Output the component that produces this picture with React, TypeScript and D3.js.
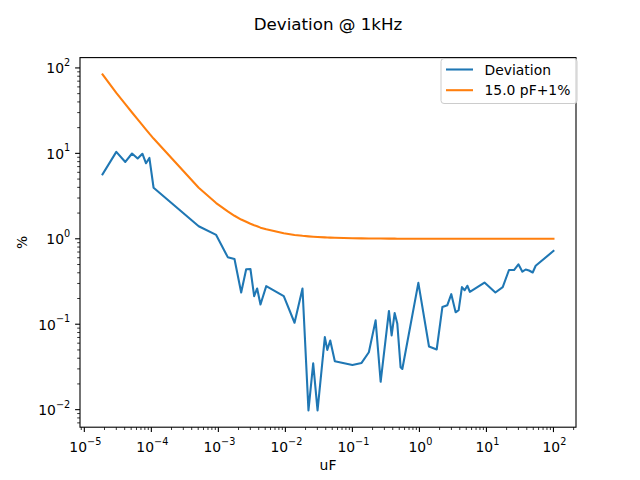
import React from "react";
import * as d3 from "d3";

// capacitance in uF
const capacitance = [
  1.87e-5, 3.0e-5, 4.09e-5, 5.15e-5, 6.25e-5, 7.35e-5, 8.33e-5, 9.35e-5, 1.08e-4,
  5.09e-4, 9.27e-4, 1.38e-3, 1.74e-3, 2.19e-3, 2.6e-3, 3.01e-3, 3.42e-3, 3.79e-3,
  4.25e-3, 5.18e-3, 9.46e-3, 1.37e-2, 1.8e-2, 2.21e-2, 2.6e-2, 3.02e-2, 3.88e-2,
  4.22e-2, 4.67e-2, 5.47e-2, 0.1, 0.137, 0.176, 0.222, 0.264, 0.351, 0.385, 0.427,
  0.468, 0.524, 0.556, 0.964, 1.39, 1.81, 2.2, 2.61, 2.99, 3.47, 3.85, 4.31, 4.73,
  5.19, 5.66, 9.35, 13.6, 17.5, 21.7, 25.8, 30.0, 34.4, 38.5, 43.2, 49.0, 54.3, 100,
];

// measured deviation, %
const deviation = [
  5.68, 10.4, 7.93, 9.96, 8.7, 9.9, 7.65, 8.84, 3.96,
  1.4, 1.11, 0.61, 0.58, 0.235, 0.44, 0.443, 0.213, 0.262,
  0.17, 0.279, 0.213, 0.104, 0.262, 0.0098, 0.0348, 0.0098, 0.0706,
  0.0501, 0.0645, 0.0368, 0.0334, 0.0352, 0.047, 0.111, 0.0212, 0.143, 0.074, 0.135,
  0.101, 0.0313, 0.0299, 0.305, 0.0548, 0.0506, 0.159, 0.167, 0.225, 0.138, 0.146, 0.272, 0.25,
  0.282, 0.239, 0.307, 0.235, 0.272, 0.431, 0.431, 0.503, 0.412, 0.437, 0.425, 0.403, 0.484, 0.72,
];

// tolerance limit, %
const tolerance = [
  84.0, 51.0, 37.7, 30.1, 25.0, 21.4, 19.0, 17.0, 14.9,
  3.95, 2.62, 2.09, 1.86, 1.68, 1.58, 1.5, 1.44, 1.4,
  1.35, 1.29, 1.16, 1.11, 1.083, 1.068, 1.058, 1.05, 1.039,
  1.036, 1.032, 1.027, 1.015, 1.011, 1.0085, 1.0068, 1.0057, 1.0043, 1.0039, 1.0035,
  1.0032, 1.0029, 1.0027, 1.0016, 1.0011, 1.0008, 1.0007, 1.0006, 1.0005, 1.0004, 1.0004, 1.0003, 1.0003,
  1.0003, 1.0003, 1.0002, 1.0001, 1.0001, 1.0001, 1.0001, 1.0, 1.0, 1.0, 1.0, 1.0, 1.0, 1.0,
];

const xTickExps = [-5, -4, -3, -2, -1, 0, 1, 2];
const yTickExps = [-2, -1, 0, 1, 2];

const seriesNames = ["Deviation", "15.0 pF+1%"];
const seriesColors = ["#1f77b4", "#ff7f0e"];

const W = 640;
const H = 480;
const left = 80;
const right = 576;
const top = 57.6;
const bottom = 427.2;
const font = "DejaVu Sans, sans-serif";

// matplotlib-like log autoscale with 5% margins
function logDomain(values: number[]): [number, number] {
  const lo = Math.log10(d3.min(values) as number);
  const hi = Math.log10(d3.max(values) as number);
  const m = (hi - lo) * 0.05;
  return [Math.pow(10, lo - m), Math.pow(10, hi + m)];
}

function minorTicks(domain: [number, number]) {
  const out: number[] = [];
  const a = Math.floor(Math.log10(domain[0]));
  const b = Math.ceil(Math.log10(domain[1]));
  for (let e = a; e <= b; e++) {
    for (let k = 2; k <= 9; k++) {
      const v = k * Math.pow(10, e);
      if (v >= domain[0] && v <= domain[1]) out.push(v);
    }
  }
  return out;
}

const Pow = ({ exp }: { exp: number }) => (
  <>
    <tspan>10</tspan>
    <tspan dy={-7.5} fontSize={9.7}>
      {exp < 0 ? `\u2212${-exp}` : `${exp}`}
    </tspan>
  </>
);

export default function App() {
  const xDomain = logDomain(capacitance);
  const yDomain = logDomain([...deviation, ...tolerance]);
  const x = d3.scaleLog().domain(xDomain).range([left, right]);
  const y = d3.scaleLog().domain(yDomain).range([bottom, top]);

  const line = d3
    .line<[number, number]>()
    .x((d) => x(d[0]))
    .y((d) => y(d[1]));

  const series = [deviation, tolerance].map((vals) =>
    capacitance.map((c, i) => [c, vals[i]] as [number, number])
  );

  return (
    <svg
      width={W}
      height={H}
      style={{ position: "absolute", left: 0, top: 0, background: "#fff" }}
      fontFamily={font}
    >
      <rect width={W} height={H} fill="#fff" />
      <defs>
        <clipPath id="plot">
          <rect x={left} y={top} width={right - left} height={bottom - top} />
        </clipPath>
      </defs>

      {/* lines */}
      <g clipPath="url(#plot)">
        {series.map((s, i) => (
          <path
            key={i}
            d={line(s) || ""}
            fill="none"
            stroke={seriesColors[i]}
            strokeWidth={2.08}
            strokeLinejoin="round"
            strokeLinecap="square"
          />
        ))}
      </g>

      {/* x ticks */}
      <g stroke="#000">
        {minorTicks(xDomain).map((v, i) => (
          <line key={"xm" + i} x1={x(v)} x2={x(v)} y1={bottom} y2={bottom + 2.8} strokeWidth={0.8} />
        ))}
        {xTickExps.map((e) => (
          <line key={"xM" + e} x1={x(Math.pow(10, e))} x2={x(Math.pow(10, e))} y1={bottom} y2={bottom + 4.9} strokeWidth={1.1} />
        ))}
        {minorTicks(yDomain).map((v, i) => (
          <line key={"ym" + i} x1={left - 2.8} x2={left} y1={y(v)} y2={y(v)} strokeWidth={0.8} />
        ))}
        {yTickExps.map((e) => (
          <line key={"yM" + e} x1={left - 4.9} x2={left} y1={y(Math.pow(10, e))} y2={y(Math.pow(10, e))} strokeWidth={1.1} />
        ))}
      </g>
      <g fontSize={13.9} fill="#000">
        {xTickExps.map((e) => (
          <text key={"xl" + e} x={x(Math.pow(10, e)) + 1} y={452} textAnchor="middle">
            <Pow exp={e} />
          </text>
        ))}
        {yTickExps.map((e) => (
          <text key={"yl" + e} x={left - 9.8} y={y(Math.pow(10, e)) + 5.5} textAnchor="end">
            <Pow exp={e} />
          </text>
        ))}
      </g>

      {/* frame */}
      <rect
        x={left}
        y={top}
        width={right - left}
        height={bottom - top}
        fill="none"
        stroke="#000"
        strokeWidth={1.1}
      />

      {/* labels */}
      <text x={(left + right) / 2} y={30} textAnchor="middle" fontSize={16.7}>
        Deviation @ 1kHz
      </text>
      <text x={(left + right) / 2} y={470} textAnchor="middle" fontSize={13.9}>
        uF
      </text>
      <text
        transform={`translate(27,${(top + bottom) / 2}) rotate(-90)`}
        textAnchor="middle"
        fontSize={13.9}
      >
        %
      </text>

      {/* legend */}
      <g>
        <rect
          x={441}
          y={58.5}
          width={136}
          height={45}
          rx={3}
          fill="#fff"
          fillOpacity={0.8}
          stroke="#ccc"
          strokeWidth={1}
        />
        {seriesNames.map((name, i) => (
          <g key={name} transform={`translate(0,${69.5 + i * 20.7})`}>
            <line x1={446} x2={473} y1={0} y2={0} stroke={seriesColors[i]} strokeWidth={2.08} />
            <text x={484.5} y={5} fontSize={13.9}>
              {name}
            </text>
          </g>
        ))}
      </g>
    </svg>
  );
}
